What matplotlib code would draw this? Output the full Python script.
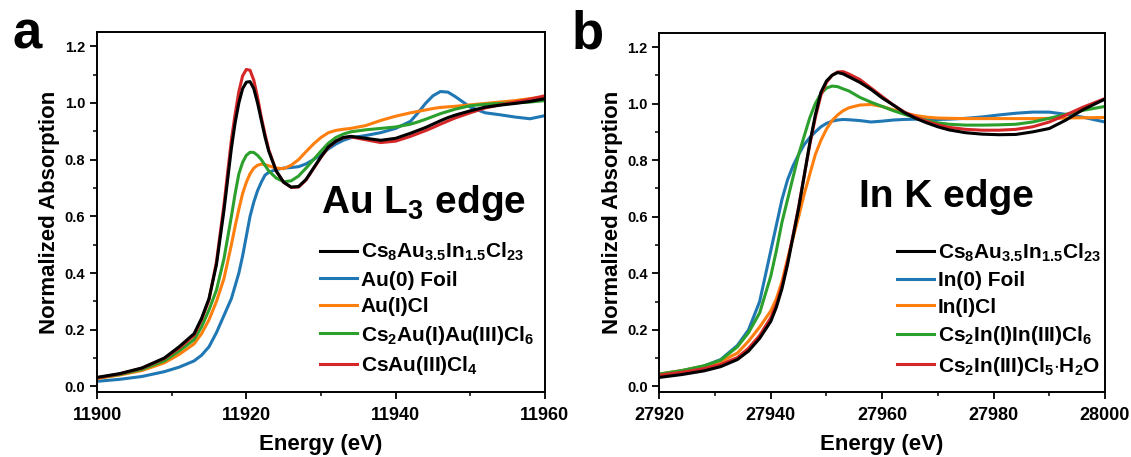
import matplotlib
matplotlib.use("Agg")
import matplotlib.pyplot as plt
from matplotlib.ticker import MultipleLocator

plt.rcParams['font.family'] = ['Liberation Sans', 'DejaVu Sans']
plt.rcParams['font.weight'] = 'bold'
plt.rcParams['mathtext.fontset'] = 'custom'
plt.rcParams['mathtext.rm'] = 'Liberation Sans:bold'
plt.rcParams['mathtext.bf'] = 'Liberation Sans:bold'
plt.rcParams['mathtext.it'] = 'Liberation Sans:bold'
plt.rcParams['mathtext.default'] = 'bf'

# ---- panel a : Au L3 edge ----
energy_a = [11900, 11903, 11906, 11909, 11911, 11913, 11914, 11915, 11916, 11917,
            11918, 11918.5, 11919, 11919.5, 11920, 11920.5, 11921, 11921.5, 11922, 11922.5,
            11923, 11924, 11925, 11926, 11927, 11928, 11929, 11930, 11931, 11932,
            11933, 11934, 11936, 11938, 11940, 11942, 11943, 11944, 11945, 11946,
            11947, 11948, 11950, 11952, 11954, 11956, 11958, 11960]
au_cs8 = [0.032, 0.045, 0.065, 0.10, 0.14, 0.186, 0.24, 0.31, 0.43, 0.62,
          0.84, 0.93, 1.0, 1.05, 1.073, 1.075, 1.05, 1.0, 0.94, 0.88,
          0.83, 0.76, 0.72, 0.703, 0.705, 0.73, 0.77, 0.81, 0.845, 0.865,
          0.878, 0.882, 0.875, 0.868, 0.875, 0.893, 0.903, 0.913, 0.925, 0.937,
          0.948, 0.957, 0.972, 0.985, 0.992, 0.998, 1.005, 1.015]
au_foil = [0.018, 0.025, 0.035, 0.052, 0.068, 0.09, 0.11, 0.14, 0.19, 0.25,
           0.31, 0.355, 0.40, 0.46, 0.53, 0.60, 0.65, 0.69, 0.72, 0.745,
           0.755, 0.765, 0.77, 0.772, 0.775, 0.785, 0.80, 0.818, 0.838, 0.855,
           0.868, 0.877, 0.885, 0.895, 0.91, 0.935, 0.965, 0.998, 1.025, 1.04,
           1.038, 1.022, 0.985, 0.965, 0.958, 0.95, 0.944, 0.955]
au_icl = [0.028, 0.04, 0.056, 0.083, 0.113, 0.15, 0.186, 0.235, 0.30, 0.38,
          0.50, 0.565, 0.625, 0.68, 0.72, 0.75, 0.77, 0.78, 0.784, 0.782,
          0.778, 0.77, 0.768, 0.78, 0.80, 0.828, 0.855, 0.878, 0.895, 0.903,
          0.907, 0.91, 0.92, 0.938, 0.953, 0.965, 0.97, 0.975, 0.98, 0.984,
          0.986, 0.988, 0.993, 0.998, 1.003, 1.008, 1.015, 1.022]
au_mixed = [0.03, 0.042, 0.06, 0.09, 0.125, 0.165, 0.21, 0.27, 0.34, 0.45,
            0.60, 0.68, 0.75, 0.79, 0.815, 0.826, 0.825, 0.815, 0.80, 0.78,
            0.76, 0.735, 0.722, 0.725, 0.742, 0.77, 0.80, 0.83, 0.858, 0.878,
            0.89, 0.898, 0.905, 0.91, 0.915, 0.925, 0.933, 0.942, 0.952, 0.962,
            0.97, 0.978, 0.99, 0.995, 0.998, 1.0, 1.003, 1.008]
au_iii = [0.03, 0.044, 0.064, 0.098, 0.135, 0.18, 0.235, 0.305, 0.44, 0.64,
          0.87, 0.96, 1.04, 1.095, 1.118, 1.115, 1.08, 1.02, 0.95, 0.89,
          0.835, 0.76, 0.72, 0.702, 0.703, 0.728, 0.768, 0.808, 0.843, 0.865,
          0.877, 0.88, 0.87, 0.86, 0.865, 0.882, 0.892, 0.902, 0.913, 0.925,
          0.936, 0.947, 0.965, 0.982, 0.993, 1.003, 1.013, 1.025]
labels_a = [r'Cs$_8$Au$_{3.5}$In$_{1.5}$Cl$_{23}$', 'Au(0) Foil', 'Au(I)Cl',
            r'Cs$_2$Au(I)Au(III)Cl$_6$', r'CsAu(III)Cl$_4$']

# ---- panel b : In K edge ----
energy_b = [27920, 27924, 27928, 27931, 27934, 27936, 27938, 27940, 27941, 27942,
            27943, 27944, 27945, 27946, 27947, 27948, 27949, 27950, 27951, 27952,
            27953, 27954, 27956, 27958, 27960, 27962, 27964, 27966, 27968, 27970,
            27972, 27975, 27978, 27981, 27984, 27987, 27990, 27993, 27996, 28000]
in_cs8 = [0.032, 0.042, 0.055, 0.07, 0.095, 0.125, 0.17, 0.23, 0.28, 0.345,
          0.43, 0.53, 0.63, 0.745, 0.86, 0.96, 1.04, 1.08, 1.10, 1.11,
          1.105, 1.095, 1.075, 1.05, 1.02, 0.995, 0.968, 0.948, 0.932, 0.918,
          0.907, 0.897, 0.892, 0.89, 0.891, 0.90, 0.912, 0.942, 0.978, 1.016]
in_foil = [0.041, 0.055, 0.072, 0.095, 0.145, 0.2, 0.3, 0.48, 0.57, 0.66,
           0.73, 0.78, 0.82, 0.855, 0.88, 0.90, 0.918, 0.93, 0.938, 0.942,
           0.944, 0.943, 0.94, 0.935, 0.938, 0.942, 0.944, 0.945, 0.944, 0.944,
           0.945, 0.948, 0.953, 0.96, 0.966, 0.97, 0.97, 0.962, 0.952, 0.935]
in_icl = [0.044, 0.056, 0.072, 0.088, 0.118, 0.16, 0.21, 0.267, 0.31, 0.37,
          0.45, 0.525, 0.60, 0.68, 0.75, 0.82, 0.87, 0.91, 0.94, 0.96,
          0.975, 0.985, 0.995, 0.997, 0.99, 0.978, 0.967, 0.958, 0.952, 0.949,
          0.948, 0.947, 0.947, 0.947, 0.947, 0.947, 0.948, 0.949, 0.95, 0.951]
in_mixed = [0.044, 0.056, 0.073, 0.093, 0.14, 0.19, 0.26, 0.39, 0.48, 0.58,
            0.66, 0.74, 0.82, 0.885, 0.95, 1.0, 1.035, 1.055, 1.062, 1.06,
            1.052, 1.045, 1.022, 1.005, 0.99, 0.975, 0.962, 0.95, 0.94, 0.932,
            0.927, 0.924, 0.924, 0.925, 0.927, 0.935, 0.948, 0.962, 0.976, 0.99]
in_iii = [0.04, 0.05, 0.063, 0.078, 0.102, 0.135, 0.18, 0.243, 0.29, 0.355,
          0.44, 0.535, 0.635, 0.745, 0.855, 0.95, 1.03, 1.075, 1.10, 1.112,
          1.113, 1.105, 1.085, 1.055, 1.025, 0.995, 0.97, 0.952, 0.937, 0.925,
          0.916, 0.909, 0.906, 0.906, 0.909, 0.918, 0.935, 0.96, 0.987, 1.018]
labels_b = [r'Cs$_8$Au$_{3.5}$In$_{1.5}$Cl$_{23}$', 'In(0) Foil', 'In(I)Cl',
            r'Cs$_2$In(I)In(III)Cl$_6$', r'Cs$_2$In(III)Cl$_5$$\cdot$H$_2$O']

colors = ['#000000', '#1f77b4', '#ff7f0e', '#2ca02c', '#d62728']
# draw order: reference curves first, the sample (black) on top
order = [1, 2, 3, 4, 0]

fig = plt.figure(figsize=(11.31, 4.57), dpi=100)
ax_a = fig.add_axes([0.0858, 0.142, 0.396, 0.788])
ax_b = fig.add_axes([0.583, 0.142, 0.394, 0.786])


def style(ax, xlim, major):
    ax.set_xlim(*xlim)
    ax.set_ylim(-0.02, 1.25)
    ax.xaxis.set_major_locator(MultipleLocator(major))
    ax.xaxis.set_minor_locator(MultipleLocator(major / 2))
    ax.yaxis.set_major_locator(MultipleLocator(0.2))
    ax.yaxis.set_minor_locator(MultipleLocator(0.1))
    ax.yaxis.set_major_formatter(matplotlib.ticker.FormatStrFormatter('%.1f'))
    for s in ax.spines.values():
        s.set_linewidth(1.4)
    ax.tick_params(which='major', direction='out', length=5, width=1.3)
    ax.tick_params(which='minor', direction='out', length=3, width=1.1)
    ax.tick_params(axis='x', labelsize=13, pad=6)
    ax.tick_params(axis='y', labelsize=10.5)
    ax.set_xlabel('Energy (eV)', fontsize=16, fontweight='bold', labelpad=7)
    ax.set_ylabel('Normalized Absorption', fontsize=16, fontweight='bold', labelpad=3)


def add_legend(ax, lines, labels, x0):
    ax.legend([lines[i] for i in range(5)], labels, loc='upper left',
              bbox_to_anchor=(x0, 0.42), frameon=False, fontsize=15,
              handlelength=1.75, handletextpad=0.2, labelspacing=0.36,
              borderpad=0, borderaxespad=0)


series_a = [au_cs8, au_foil, au_icl, au_mixed, au_iii]
lines = {}
for i in order:
    lines[i], = ax_a.plot(energy_a, series_a[i], color=colors[i], lw=2.2)
style(ax_a, (11900, 11960), 20)
add_legend(ax_a, lines, labels_a, 0.498)
ax_a.text(11930, 0.61, r'Au L$_3$ edge', fontsize=28, fontweight='bold')

series_b = [in_cs8, in_foil, in_icl, in_mixed, in_iii]
lines = {}
for i in order:
    lines[i], = ax_b.plot(energy_b, series_b[i], color=colors[i], lw=2.2)
style(ax_b, (27920, 28000), 20)
add_legend(ax_b, lines, labels_b, 0.534)
ax_b.text(27955.8, 0.634, 'In K edge', fontsize=28, fontweight='bold')

fig.text(0.011, 0.893, 'a', fontsize=38, fontweight='bold')
fig.text(0.505, 0.893, 'b', fontsize=38, fontweight='bold')

fig.savefig('out.png', dpi=100)
